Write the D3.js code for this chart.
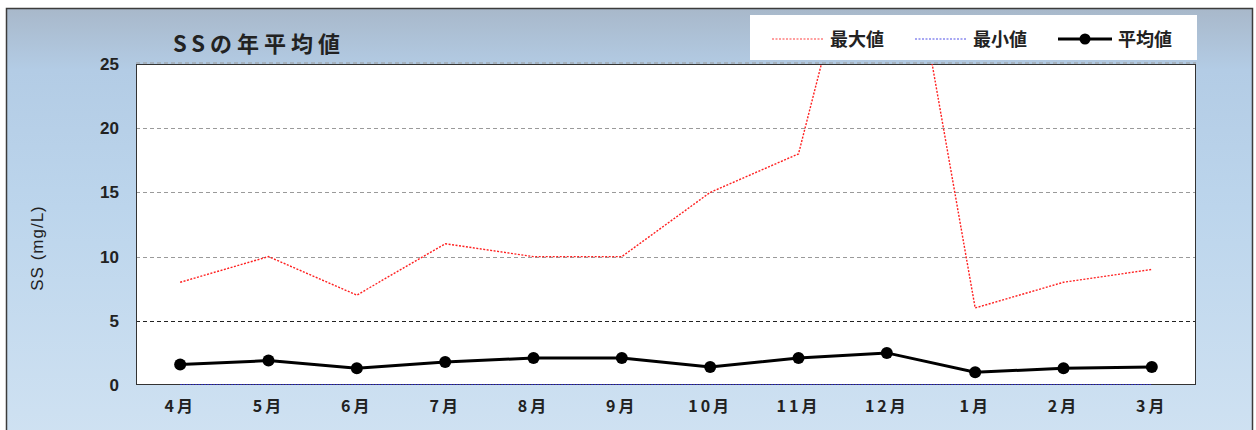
<!DOCTYPE html>
<html>
<head>
<meta charset="utf-8">
<script src="https://cdn.jsdelivr.net/npm/d3@7/dist/d3.min.js"></script>
<style>
  html, body { margin: 0; padding: 0; background: #ffffff; }
  svg { display: block; }
  text { font-family: "Liberation Sans", Arial, sans-serif; }
  .jp { font-family: "Noto Sans CJK JP", "Noto Sans", sans-serif; }
</style>
</head>
<body>
<svg id="chart" width="1256" height="430"></svg>
<script>
// Monthly SS values (mg/L), fiscal year April → March
const months = ["4月", "5月", "6月", "7月", "8月", "9月", "10月", "11月", "12月", "1月", "2月", "3月"];
const maxValues = [8, 10, 7, 11, 10, 10, 15, 18, 45, 6, 8, 9];
const minValues = [0, 0, 0, 0, 0, 0, 0, 0, 0, 0, 0, 0];
const meanValues = [1.6, 1.9, 1.3, 1.8, 2.1, 2.1, 1.4, 2.1, 2.5, 1.0, 1.3, 1.4];
const yTicks = [0, 5, 10, 15, 20, 25];
const seriesNames = ["最大値", "最小値", "平均値"];
const chartTitle = "SSの年平均値";
const yAxisTitle = "SS (mg/L)";

const svg = d3.select("#chart");

// Framed background panel with vertical gradient
const defs = svg.append("defs");
const grad = defs.append("linearGradient")
  .attr("id", "bg").attr("x1", 0).attr("y1", 0).attr("x2", 0).attr("y2", 1);
grad.append("stop").attr("offset", "0%").attr("stop-color", "#a8b8ca");
grad.append("stop").attr("offset", "14%").attr("stop-color", "#b3cce5");
grad.append("stop").attr("offset", "45%").attr("stop-color", "#bcd5ec");
grad.append("stop").attr("offset", "100%").attr("stop-color", "#d0e2f2");

svg.append("rect")
  .attr("x", 6.5).attr("y", 8.5).attr("width", 1246).attr("height", 440)
  .attr("fill", "url(#bg)").attr("stroke", "#3c3c3c").attr("stroke-width", 1.5);

// Plot area
const plot = { left: 136, right: 1196, top: 64, bottom: 385 };

const x = d3.scaleBand().domain(months).range([plot.left, plot.right]).padding(0);
const y = d3.scaleLinear().domain([0, 25]).range([plot.bottom, plot.top]);
const cx = m => x(m) + x.bandwidth() / 2;

defs.append("clipPath").attr("id", "plotClip")
  .append("rect")
  .attr("x", plot.left).attr("y", plot.top)
  .attr("width", plot.right - plot.left).attr("height", plot.bottom - plot.top);

svg.append("rect")
  .attr("x", plot.left).attr("y", plot.top)
  .attr("width", plot.right - plot.left).attr("height", plot.bottom - plot.top)
  .attr("fill", "#ffffff");

// Horizontal gridlines
const grid = svg.append("g");
yTicks.filter(t => t > 0).forEach(t => {
  grid.append("line")
    .attr("x1", plot.left).attr("x2", plot.right)
    .attr("y1", Math.round(y(t)) + 0.5).attr("y2", Math.round(y(t)) + 0.5)
    .attr("stroke", t === 5 ? "#222222" : "#9a9a9a")
    .attr("stroke-width", 1.2)
    .attr("stroke-dasharray", "4,3");
});

// Plot border
svg.append("rect")
  .attr("x", plot.left + 0.5).attr("y", plot.top + 0.5)
  .attr("width", plot.right - plot.left - 1).attr("height", plot.bottom - plot.top - 1)
  .attr("fill", "none").attr("stroke", "#333333").attr("stroke-width", 1);

// Dashed top gridline over the border
svg.append("line")
  .attr("x1", plot.left).attr("x2", plot.right)
  .attr("y1", y(25) - 1).attr("y2", y(25) - 1)
  .attr("stroke", "#9a9a9a").attr("stroke-width", 1.2).attr("stroke-dasharray", "4,3");

// Y axis labels
const yAxis = d3.axisLeft(y).tickValues(yTicks).tickSize(0).tickPadding(17);
const yg = svg.append("g").attr("transform", `translate(${plot.left},0)`).call(yAxis);
yg.select(".domain").remove();
yg.selectAll("text")
  .attr("font-family", "'Liberation Sans', Arial, sans-serif")
  .attr("font-size", 17).attr("font-weight", "bold").attr("fill", "#222222");

// X axis labels
const xAxis = d3.axisBottom(x).tickSize(0).tickPadding(16);
const xg = svg.append("g").attr("transform", `translate(0,${plot.bottom})`).call(xAxis);
xg.select(".domain").remove();
xg.selectAll("text")
  .attr("class", "jp")
  .attr("font-family", "'Noto Sans CJK JP', sans-serif")
  .attr("font-size", 16).attr("font-weight", "bold").attr("fill", "#222222")
  .attr("letter-spacing", "3px");

// Y axis title
svg.append("text")
  .attr("transform", `translate(43,248) rotate(-90)`)
  .attr("text-anchor", "middle")
  .attr("font-family", "'Liberation Sans', Arial, sans-serif")
  .attr("font-size", 17).attr("fill", "#222222")
  .attr("letter-spacing", "1px")
  .text(yAxisTitle);

// Chart title
svg.append("text")
  .attr("class", "jp")
  .attr("x", 173).attr("y", 52)
  .attr("font-family", "'Noto Sans CJK JP', sans-serif")
  .attr("font-size", 22).attr("font-weight", "bold").attr("fill", "#222222")
  .attr("letter-spacing", "5px")
  .text(chartTitle);

// Series lines
const line = d3.line().x((d, i) => cx(months[i])).y(d => y(d));
const series = svg.append("g").attr("clip-path", "url(#plotClip)");

series.append("path")
  .datum(maxValues)
  .attr("d", line)
  .attr("fill", "none").attr("stroke", "#ff2020")
  .attr("stroke-width", 1.4).attr("stroke-dasharray", "2,1.5");

series.append("path")
  .datum(minValues)
  .attr("d", line)
  .attr("fill", "none").attr("stroke", "#2a2ae0")
  .attr("stroke-width", 1.6).attr("stroke-dasharray", "2,1");

series.append("path")
  .datum(meanValues)
  .attr("d", line)
  .attr("fill", "none").attr("stroke", "#000000").attr("stroke-width", 3);

series.selectAll("circle.mean")
  .data(meanValues)
  .join("circle")
  .attr("class", "mean")
  .attr("cx", (d, i) => cx(months[i]))
  .attr("cy", d => y(d))
  .attr("r", 6).attr("fill", "#000000");

// Legend
const lg = svg.append("g");
lg.append("rect")
  .attr("x", 750).attr("y", 15).attr("width", 447).attr("height", 45)
  .attr("fill", "#ffffff");

const legendItems = [
  { name: seriesNames[0], x0: 772, x1: 823, tx: 830, color: "#ff4040", width: 1.2, dash: "2,1.5", marker: false },
  { name: seriesNames[1], x0: 915, x1: 967, tx: 973, color: "#5050e8", width: 1.2, dash: "2,1.5", marker: false },
  { name: seriesNames[2], x0: 1058, x1: 1112, tx: 1118, color: "#000000", width: 3, dash: null, marker: true }
];
legendItems.forEach(it => {
  lg.append("line")
    .attr("x1", it.x0).attr("x2", it.x1).attr("y1", 39).attr("y2", 39)
    .attr("stroke", it.color).attr("stroke-width", it.width)
    .attr("stroke-dasharray", it.dash);
  if (it.marker) {
    lg.append("circle").attr("cx", (it.x0 + it.x1) / 2).attr("cy", 39).attr("r", 5.5).attr("fill", "#000000");
  }
  lg.append("text")
    .attr("class", "jp")
    .attr("x", it.tx).attr("y", 46)
    .attr("font-family", "'Noto Sans CJK JP', sans-serif")
    .attr("font-size", 18).attr("font-weight", "bold").attr("fill", "#222222")
    .text(it.name);
});
</script>
</body>
</html>
